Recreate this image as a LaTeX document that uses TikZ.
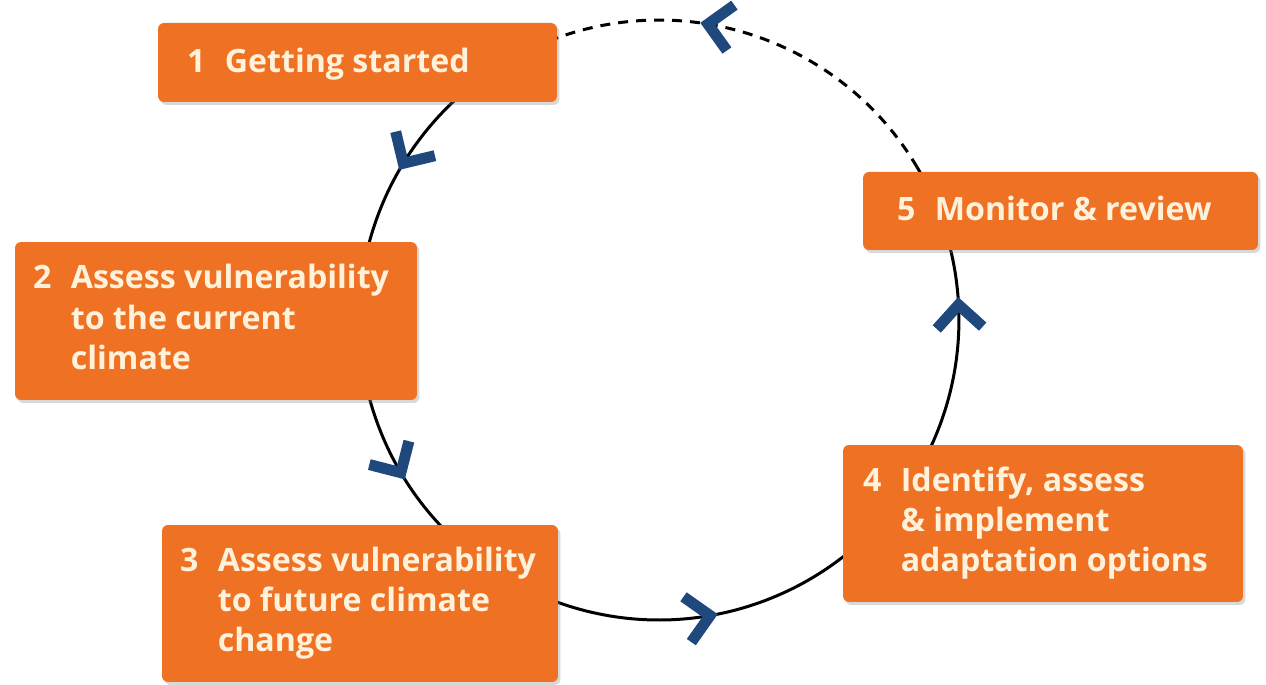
\documentclass[tikz,border=0pt]{standalone}
\usepackage{fontspec}
\setmainfont{Open Sans}
\usetikzlibrary{shadows}
\definecolor{boxorange}{RGB}{239,113,36}
\definecolor{boxtext}{RGB}{255,241,218}
\definecolor{chevblue}{RGB}{31,73,125}
\newcommand{\steptxt}[2]{\makebox[21.5pt][l]{#1}\begin{tabular}[t]{@{}l@{}}#2\end{tabular}}
\tikzset{
  stepbox/.style={rectangle, rounded corners=0.12cm, fill=boxorange, draw=none, inner sep=0pt,
    drop shadow={opacity=0.3, shadow xshift=0.05cm, shadow yshift=-0.06cm}},
  steptext/.style={inner sep=0pt, text=boxtext, font=\fontsize{18.3pt}{22.8pt}\selectfont\bfseries},
  ring/.style={line width=0.06cm, black},
  ringdash/.style={ring, dash pattern=on 0.2cm off 0.16cm},
  chevline/.style={line width=0.22cm, chevblue, line join=miter, line cap=butt},
  chev/.pic={\draw[chevline] (-0.46cm,0.46cm) -- (0,0) -- (-0.46cm,-0.46cm);}
}
\begin{document}
\begin{tikzpicture}[x=0.02cm, y=0.02cm]
\fill[white] (0,0) rectangle (1266,685);
\useasboundingbox (0,0) rectangle (1266,685);
% ring
\coordinate (c) at (659,365);
\coordinate (p1) at ([shift={(109.7:6cm)}]c);
\coordinate (p5) at ([shift={(30.6:6cm)}]c);
\draw[ring] (p1) arc[start angle=109.7, end angle=390.6, radius=6cm];
\draw[ringdash] (p5) arc[start angle=30.6, end angle=109.7, radius=6cm];
% boxes
\node[stepbox, minimum width=7.98cm, minimum height=1.58cm] (b1) at (357.5,622.5) {};
\node[stepbox, minimum width=8.04cm, minimum height=3.16cm] (b2) at (216,364) {};
\node[stepbox, minimum width=7.92cm, minimum height=3.14cm] (b3) at (360,81.5) {};
\node[stepbox, minimum width=8.00cm, minimum height=3.14cm] (b4) at (1043,161.5) {};
\node[stepbox, minimum width=7.90cm, minimum height=1.56cm] (b5) at (1060.5,474) {};
% texts
\node[steptext, anchor=west] (t1) at ([xshift=0.58cm, yshift=-0.04cm]b1.west) {\steptxt{1}{Getting started}};
\node[steptext, anchor=west] (t2) at ([xshift=0.36cm]b2.west) {\steptxt{2}{Assess vulnerability\\to the current\\climate}};
\node[steptext, anchor=west] (t3) at ([xshift=0.36cm]b3.west) {\steptxt{3}{Assess vulnerability\\to future climate\\change}};
\node[steptext, anchor=west] (t4) at ([xshift=0.40cm]b4.west) {\steptxt{4}{Identify, assess\\\& implement\\adaptation options}};
\node[steptext, anchor=west] (t5) at ([xshift=0.68cm, yshift=-0.04cm]b5.west) {\steptxt{5}{Monitor \& review}};
% chevrons
\pic[rotate=238.5] at ([shift={(148.5:6cm)}]c) {chev};
\pic[rotate=300.6] at ([shift={(210.6:6cm)}]c) {chev};
\pic[rotate=9.8] at ([shift={(279.8:6cm)}]c) {chev};
\pic[rotate=92.9] at ([shift={(2.9:6cm)}]c) {chev};
\pic[rotate=170.6] at ([shift={(80.6:6cm)}]c) {chev};
\end{tikzpicture}
\end{document}
